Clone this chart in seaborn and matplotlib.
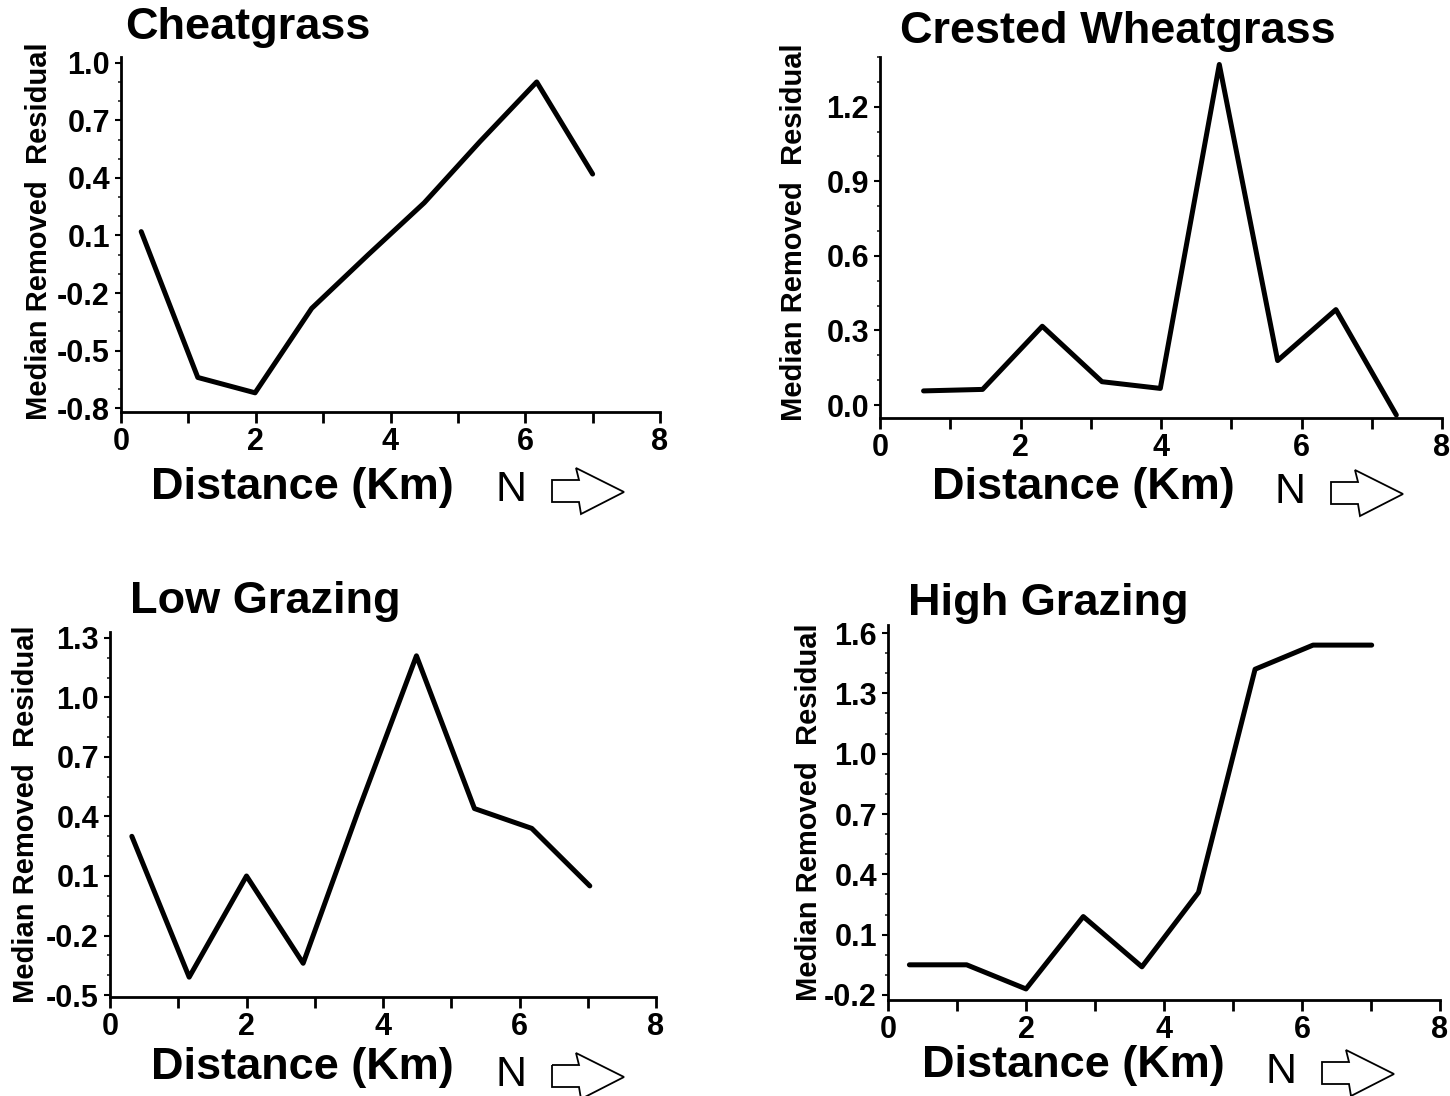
import numpy as np
import pandas as pd
import matplotlib
matplotlib.use("Agg")
import matplotlib.pyplot as plt
import seaborn as sns
from matplotlib.patches import Polygon
from matplotlib.ticker import FixedLocator, MultipleLocator

# ---------------- data ----------------
titles = ["Cheatgrass", "Crested Wheatgrass", "Low Grazing", "High Grazing"]

cheat_x = [0.30, 1.14, 1.99, 2.83, 3.67, 4.50, 5.33, 6.17, 7.00]
cheat_y = [0.12, -0.64, -0.72, -0.28, 0.00, 0.27, 0.59, 0.90, 0.42]

crested_x = [0.62, 1.46, 2.31, 3.16, 3.99, 4.83, 5.66, 6.49, 7.35]
crested_y = [0.057, 0.063, 0.317, 0.094, 0.067, 1.37, 0.179, 0.384, -0.04]

low_x = [0.32, 1.16, 2.00, 2.83, 3.65, 4.49, 5.34, 6.18, 7.03]
low_y = [0.30, -0.41, 0.10, -0.34, 0.44, 1.21, 0.44, 0.34, 0.05]

high_x = [0.31, 1.14, 2.00, 2.83, 3.68, 4.50, 5.32, 6.16, 7.01]
high_y = [-0.05, -0.05, -0.17, 0.19, -0.06, 0.31, 1.42, 1.54, 1.54]

yticks_cheat = [-0.8, -0.5, -0.2, 0.1, 0.4, 0.7, 1.0]
yticks_crested = [0.0, 0.3, 0.6, 0.9, 1.2]
yticks_low = [-0.5, -0.2, 0.1, 0.4, 0.7, 1.0, 1.3]
yticks_high = [-0.2, 0.1, 0.4, 0.7, 1.0, 1.3, 1.6]

xticks = [0, 1, 2, 3, 4, 5, 6, 7, 8]
xtick_labels = ["0", "", "2", "", "4", "", "6", "", "8"]

x_label = "Distance (Km)"
y_label = "Median Removed  Residual"
north_label = "N"

# ---------------- style ----------------
sns.set_theme(style="ticks")
plt.rcParams["font.family"] = ["Liberation Sans", "DejaVu Sans"]

W, H = 1450, 1096
fig = plt.figure(figsize=(W / 100, H / 100), dpi=100)


def fx(x):
    return x / W


def fy(y):
    return 1 - y / H


panels = [
    dict(xs=cheat_x, ys=cheat_y, yt=yticks_cheat, ylim=(-0.82, 1.03),
         box=(121, 660, 57, 412), title=(125, 28), xlab=(302, 487), north=(511, 490),
         ylab=(-0.126, 0.51)),
    dict(xs=crested_x, ys=crested_y, yt=yticks_crested, ylim=(-0.052, 1.40),
         box=(880, 1442, 57, 418), title=(900, 32), xlab=(1083, 488), north=(1290, 492),
         ylab=(-0.128, 0.515)),
    dict(xs=low_x, ys=low_y, yt=yticks_low, ylim=(-0.51, 1.33),
         box=(110, 656, 632, 997), title=(130, 602), xlab=(302, 1068), north=(511, 1075),
         ylab=(-0.128, 0.50)),
    dict(xs=high_x, ys=high_y, yt=yticks_high, ylim=(-0.225, 1.64),
         box=(888, 1440, 625, 1000), title=(908, 604), xlab=(1073, 1066), north=(1281, 1072),
         ylab=(-0.118, 0.50)),
]

arrow_rel = [(41, -10), (68, -10), (65, -22), (113, 2), (70, 24), (68, 12), (41, 12)]

for title, p in zip(titles, panels):
    l, r, t, b = p["box"]
    ax = fig.add_axes([fx(l), fy(b), (r - l) / W, (b - t) / H])
    df = pd.DataFrame({"x": p["xs"], "y": p["ys"]})
    sns.lineplot(data=df, x="x", y="y", ax=ax, color="black", linewidth=3.6,
                 sort=False, estimator=None)
    ax.set_xlim(0, 8)
    ax.set_ylim(*p["ylim"])
    ax.set_facecolor("white")
    sns.despine(ax=ax)
    for s in ("left", "bottom"):
        ax.spines[s].set_linewidth(2.0)
        ax.spines[s].set_color("black")
    ax.xaxis.set_major_locator(FixedLocator(xticks))
    ax.set_xticklabels(xtick_labels)
    ax.yaxis.set_major_locator(FixedLocator(p["yt"]))
    ax.set_yticklabels([f"{v:.1f}" for v in p["yt"]])
    ax.yaxis.set_minor_locator(MultipleLocator(0.1))
    ax.tick_params(axis="x", which="major", length=8, width=2, pad=3,
                   labelsize=22, colors="black")
    ax.tick_params(axis="y", which="major", length=4, width=1.5, pad=4,
                   labelsize=22, colors="black")
    ax.tick_params(axis="y", which="minor", length=2.5, width=1.2)
    for lab in ax.get_xticklabels() + ax.get_yticklabels():
        lab.set_fontweight("bold")
    ax.set_xlabel("")
    ax.set_ylabel(y_label, fontsize=21, fontweight="bold", color="black")
    ax.yaxis.set_label_coords(*p["ylab"])

    tx, ty = p["title"]
    fig.text(fx(tx), fy(ty), title, fontsize=32.5, fontweight="bold",
             ha="left", va="center", color="black")
    lx, ly = p["xlab"]
    fig.text(fx(lx), fy(ly), x_label, fontsize=32.5, fontweight="bold",
             ha="center", va="center", color="black")
    nx, ny = p["north"]
    fig.text(fx(nx), fy(ny), north_label, fontsize=31, fontweight="normal",
             ha="center", va="center", color="black")
    pts = [(fx(nx + dx), fy(ny + dy)) for dx, dy in arrow_rel]
    fig.patches.append(Polygon(pts, closed=True, fill=False, edgecolor="black",
                               linewidth=1.3, transform=fig.transFigure))

fig.savefig("out.png", dpi=100, facecolor="white")
